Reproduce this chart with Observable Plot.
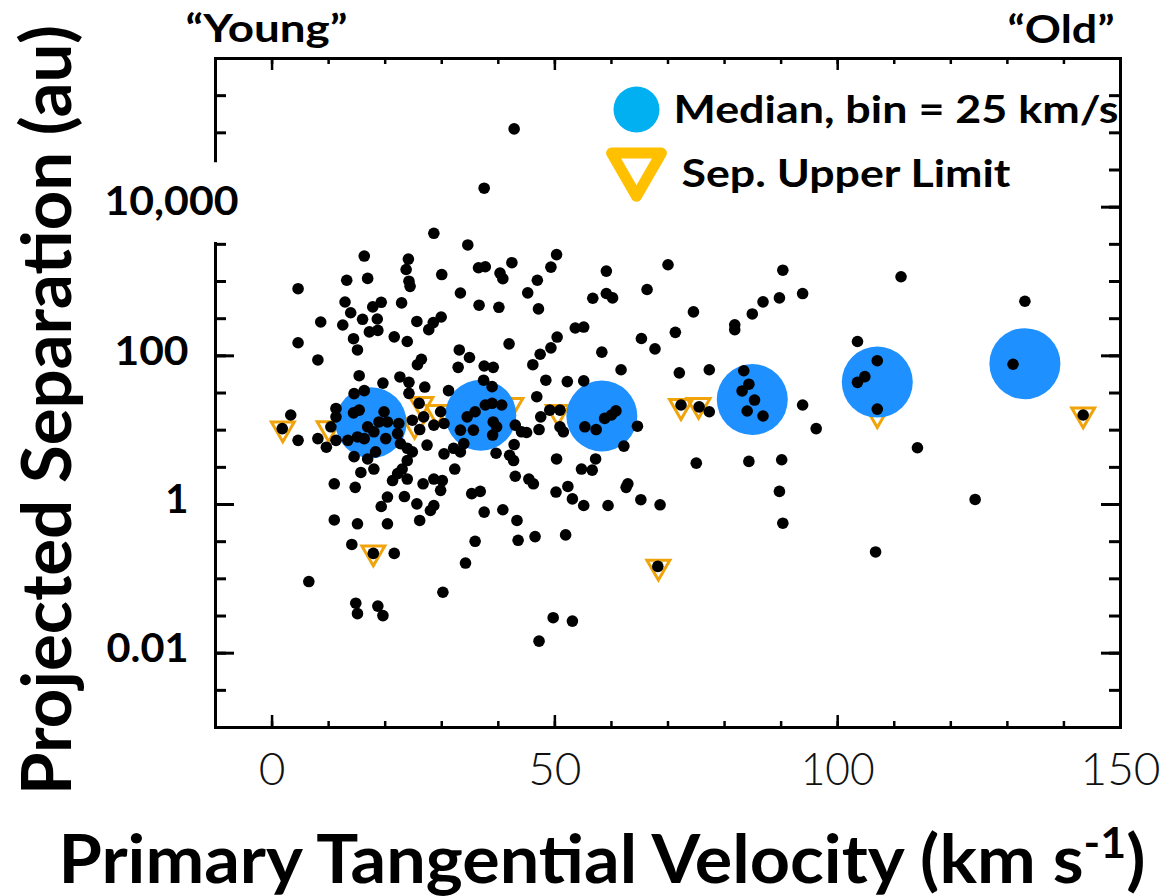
<!DOCTYPE html>
<html><head><meta charset="utf-8">
<script src="https://cdn.jsdelivr.net/npm/d3@7"></script>
<script src="https://cdn.jsdelivr.net/npm/@observablehq/plot@0.6"></script>
<style>html,body{margin:0;padding:0;background:#fff;}</style>
</head><body><div id="chart"></div>
<script>
// ---- data ----
const velocity = [
37.5,28.6,34.6,16.3,24.1,23.7,13.2,16.9,30.0,36.5,37.7,4.6,24.2,24.4,33.3,12.9,22.9,19.3,17.8,36.6,
13.9,8.6,12.5,16.0,18.6,25.6,29.9,28.5,27.7,17.2,18.7,21.6,23.9,4.6,14.4,15.1,8.1,33.1,34.9,25.7,
26.4,32.9,37.5,15.4,19.6,22.6,24.2,27.0,31.2,14.5,16.3,
42.8,50.3,49.3,42.4,40.3,40.8,46.9,45.2,59.1,70.0,66.3,56.7,59.1,60.2,40.1,47.1,74.5,53.6,55.1,50.4,
65.3,71.3,41.9,49.3,47.4,67.7,58.3,46.1,39.1,61.7,72.0,48.4,52.2,55.1,37.4,38.9,46.8,77.3,
24.2,26.0,26.8,29.8,30.4,28.6,26.1,11.3,11.3,14.4,15.4,19.8,20.4,22.4,22.2,18.9,16.9,18.0,15.1,16.3,
20.1,22.7,23.9,24.8,10.4,11.3,13.4,9.6,8.1,4.6,3.3,1.8,18.3,16.9,14.5,15.7,18.0,23.9,23.0,22.2,
21.3,23.9,27.4,30.4,32.1,33.3,33.9,33.3,34.5,35.9,35.6,37.7,32.3,28.6,30.1,26.7,29.8,11.0,14.7,20.4,
19.3,23.4,25.6,28.6,28.0,35.3,36.8,37.5,11.0,15.1,20.4,26.1,14.1,17.9,21.6,35.9,34.2,6.5,30.2,14.8,
15.1,18.7,19.6,24.8,
38.9,40.6,39.1,39.7,39.0,43.0,47.5,49.1,50.9,47.2,44.1,45.0,50.9,51.5,55.3,57.3,58.8,60.0,60.8,64.6,
62.2,42.8,39.6,42.0,42.7,50.3,57.2,54.7,56.6,43.0,45.4,46.2,52.3,50.2,53.1,55.1,59.4,62.9,62.6,65.2,
68.6,75.0,72.3,75.5,77.3,40.8,43.3,43.5,46.5,51.9,68.2,49.7,53.1,47.2,
90.3,89.7,86.8,84.9,81.8,81.8,93.8,111.2,133.1,103.5,83.4,84.3,83.1,85.3,84.0,86.8,107.0,104.8,103.5,107.0,
131.0,143.4,93.8,96.2,84.3,90.1,89.7,90.3,114.1,124.3,106.7
];
const separation = [
18000,4450,3100,2200,2000,1450,1040,1100,1240,1530,1580,800,1010,860,700,530,515,525,455,480,
380,285,260,310,313,290,333,280,225,210,220,180,156,150,170,120,88,120,95,76,
90,70,73,54,43,52,44,38,34,31,34,
113000,2300,1560,1790,1300,1090,1040,704,1380,1680,780,595,690,602,450,428,390,237,244,179,
171,207,145,128,105,124,112,76,70,65,59,47,45,46,47,38.5,28.2,65,
31.3,23,15.1,17.7,12.3,11.7,10.2,19.6,15.1,17.1,18.6,17.7,12.9,12.3,9.0,12.9,11.1,9.5,8.1,7.7,
7.7,6.6,5.7,5.1,11.1,7.3,7.3,5.9,7.7,7.3,16,10.5,5.1,4.1,4.4,2.7,3.0,3.9,3.0,2.6,
2.1,2.2,6.3,4.8,5.7,5.1,6.6,10,15.1,17.7,10,21.8,3.0,2.2,2.1,1.9,1.55,1.9,1.7,1.26,
0.94,1.28,1.02,0.97,0.83,1.4,1.5,0.79,0.62,0.55,0.55,0.61,0.29,0.22,0.22,0.32,0.163,0.092,0.066,0.047,
0.034,0.043,0.032,13.6,
23,21.8,12.9,11.1,8.6,11.7,15.1,18.6,18.6,10.2,9.5,9.3,11.1,9.5,11.1,10.2,14.4,16,18.2,11.3,
6.1,6.4,4.9,4.6,3.9,4.1,4.1,3.0,2.9,2.4,2.2,1.9,1.75,1.47,1.19,0.97,0.97,1.9,1.7,1.16,
0.99,3.6,21.8,20.6,17.7,0.85,0.61,0.33,0.37,0.39,0.147,0.030,0.027,0.0145,
1420,602,532,366,262,225,689,1158,542,156,63,41.5,33.7,25.4,18.1,15.5,86,52.5,44,19.2,
77,16,21.8,10.5,3.8,4.0,1.5,0.56,5.8,1.17,0.23
];
const limitVelocity   = [1.9, 10.0, 17.9, 26.4, 29.2, 25.2, 42.3, 50.5, 72.3, 75.4, 68.3, 107.0, 143.4];
const limitSeparation = [10.5, 10.6, 0.225, 22.5, 17.5, 11.7, 21.8, 17.5, 21, 21.8, 0.145, 16.4, 16.2];
const medianVelocity   = [17.5, 36.9, 58.3, 84.9, 107.0, 133.1];
const medianSeparation = [12.6, 15.9, 15.5, 25.8, 44.3, 78.5];

const xTicksMinor = [0,10,20,30,40,50,60,70,80,90,100,110,120,130,140];
const xTicksMajor = [0,50,100];
const xTickValues = [0,50,100,150];
const xTickLabels = ["0","50","100","150"];
const yTicksMinor = [0.00316,0.01,0.0316,0.1,0.316,1,3.16,10,31.6,100,316,1000,3162,10000,31623,100000,316228];
const yTicksMajor = [0.01,1,100,10000];
const yLabelValues = [10000,100,1,0.01];
const yLabelTexts = ["10,000","100","1","0.01"];

const xTitle = "Primary Tangential Velocity (km s";
const xTitleSup = "-1";
const yTitle = "Projected Separation (au)";
const legendMedian = "Median, bin = 25 km/s";
const legendLimit = "Sep. Upper Limit";
const youngLabel = "\u201cYoung\u201d";
const oldLabel = "\u201cOld\u201d";

// ---- build ----
const points = velocity.map((v, i) => ({v, s: separation[i]}));
const limits = limitVelocity.map((v, i) => ({v, s: limitSeparation[i]}));
const medians = medianVelocity.map((v, i) => ({v, s: medianSeparation[i]}));

const W = 1167, H = 896, ML = 215, MR = 47, MT = 58, MB = 169;
const PW = W - ML - MR, PH = H - MT - MB;
const S3 = Math.sqrt(3);
const triangleDown = {draw(ctx, size) {
  const y = -Math.sqrt(size / (S3 * 3));
  ctx.moveTo(0, -2 * y); ctx.lineTo(S3 * y, y); ctx.lineTo(-S3 * y, y); ctx.closePath();
}};
const bold = {fontFamily: "Lato", fontWeight: "bold", fill: "black"};

const svg = Plot.plot({
  width: W, height: H,
  marginLeft: ML, marginRight: MR, marginTop: MT, marginBottom: MB,
  style: {background: "white", fontFamily: "Lato", overflow: "visible"},
  x: {domain: [-10, 150], axis: null},
  y: {type: "log", domain: [1e-3, 1e6], axis: null},
  marks: [
    Plot.frame({stroke: "black", strokeWidth: 3}),
    Plot.tickX(xTicksMinor, {x: d => d, insetTop: PH - 6, stroke: "black", strokeWidth: 2.5}),
    Plot.tickX(xTicksMajor, {x: d => d, insetTop: PH - 12, stroke: "black", strokeWidth: 2.5}),
    Plot.tickX(xTicksMinor, {x: d => d, insetBottom: PH - 6, stroke: "black", strokeWidth: 2.5}),
    Plot.tickX(xTicksMajor, {x: d => d, insetBottom: PH - 12, stroke: "black", strokeWidth: 2.5}),
    Plot.tickY(yTicksMinor, {y: d => d, insetRight: PW - 11, stroke: "black", strokeWidth: 3}),
    Plot.tickY(yTicksMajor, {y: d => d, insetRight: PW - 19, stroke: "black", strokeWidth: 3}),
    Plot.tickY(yTicksMinor, {y: d => d, insetLeft: PW - 11, stroke: "black", strokeWidth: 3}),
    Plot.tickY(yTicksMajor, {y: d => d, insetLeft: PW - 19, stroke: "black", strokeWidth: 3}),
    Plot.dot([yLabelValues[0]], {y: d => d, frameAnchor: "left", symbol: "square", r: 45, fill: "white", dy: -5}),
    Plot.text([1, 2, 3], {y: i => yLabelValues[i], text: i => yLabelTexts[i], frameAnchor: "left",
      textAnchor: "end", dx: -27, dy: -4, fontSize: 40, ...bold}),
    Plot.text([0], {y: i => yLabelValues[i], text: i => yLabelTexts[i], frameAnchor: "left",
      textAnchor: "end", dx: 23, dy: -5, fontSize: 40, ...bold}),
    Plot.text(xTickValues, {x: d => d, text: (d, i) => xTickLabels[i], frameAnchor: "bottom",
      dy: 57, fontSize: 46, fontFamily: "Lato", fontWeight: 300, fill: "#111"}),
    Plot.dot(limits, {x: "v", y: "s", symbol: triangleDown, r: 8.5, stroke: "#F0A30A", strokeWidth: 3, fill: "none"}),
    Plot.dot(medians, {x: "v", y: "s", r: 35.5, fill: "#1E90FF"}),
    Plot.dot(points, {x: "v", y: "s", r: 5.8, fill: "black"}),
    Plot.dot([0], {frameAnchor: "top-left", dx: 421, dy: 51, r: 23, fill: "#00B0F0"}),
    Plot.dot([0], {frameAnchor: "top-left", dx: 421, dy: 109, symbol: triangleDown, r: 18.5,
      stroke: "#FFC000", strokeWidth: 11, strokeLinejoin: "round", fill: "none"}),
    Plot.text([legendMedian], {frameAnchor: "top-left", textAnchor: "start", lineAnchor: "bottom",
      dx: 458, dy: 64.7, fontSize: 38, ...bold}),
    Plot.text([legendLimit], {frameAnchor: "top-left", textAnchor: "start", lineAnchor: "bottom",
      dx: 466, dy: 128.7, fontSize: 38, ...bold}),
    Plot.text([youngLabel], {frameAnchor: "top-left", textAnchor: "start", lineAnchor: "bottom",
      dx: -30, dy: -16.3, fontSize: 39, ...bold}),
    Plot.text([oldLabel], {frameAnchor: "top-right", textAnchor: "end", lineAnchor: "bottom",
      dx: -6, dy: -15.3, fontSize: 39, ...bold}),
    Plot.text([xTitle], {frameAnchor: "bottom", textAnchor: "middle", lineAnchor: "bottom",
      dx: -66, dy: 155, fontSize: 66, ...bold}),
    Plot.text([yTitle], {frameAnchor: "left", textAnchor: "middle", lineAnchor: "middle", rotate: -90,
      dx: -166, dy: 17, fontSize: 68, ...bold})
  ]
});

const root = d3.select(svg);
function textsOf(str) {
  return root.selectAll("text").filter(function() { return this.textContent === str; });
}
function fit(str, len) {
  textsOf(str).attr("textLength", len).attr("lengthAdjust", "spacingAndGlyphs");
}
fit(yTitle, 770);
fit(legendMedian, 445);
fit(legendLimit, 329);
fit(youngLabel, 162);
fit(oldLabel, 107);
fit("10,000", 134);
fit("100", 74);
fit("0.01", 82);
textsOf(xTitle).each(function() {
  const t = d3.select(this);
  t.text(null);
  t.append("tspan").text(xTitle);
  t.append("tspan").attr("dy", -25).attr("font-size", 42).text(xTitleSup);
  t.append("tspan").attr("dy", 25).text(")");
  t.attr("textLength", 1087).attr("lengthAdjust", "spacingAndGlyphs");
});
document.getElementById("chart").appendChild(svg);
</script></body></html>
